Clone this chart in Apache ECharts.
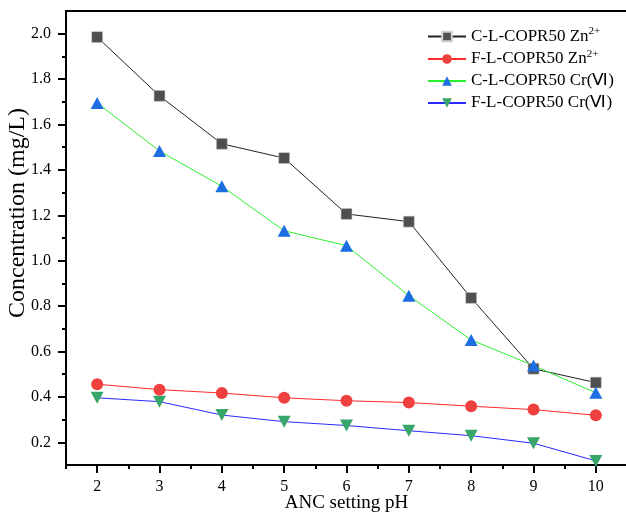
<!DOCTYPE html>
<html>
<head>
<meta charset="utf-8">
<script src="https://cdn.jsdelivr.net/npm/echarts@6/dist/echarts.min.js"></script>
<style>
  html, body { margin: 0; padding: 0; background: #fff; }
  #chart { width: 626px; height: 513px; }
</style>
</head>
<body>
<div id="chart"></div>
<script>
const ph = [2, 3, 4, 5, 6, 7, 8, 9, 10];
const cZn = [1.985, 1.726, 1.515, 1.452, 1.206, 1.172, 0.836, 0.524, 0.463];
const fZn = [0.456, 0.432, 0.417, 0.396, 0.383, 0.375, 0.359, 0.344, 0.319];
const cCr = [1.695, 1.483, 1.328, 1.132, 1.066, 0.846, 0.651, 0.538, 0.418];
const fCr = [0.396, 0.379, 0.320, 0.291, 0.274, 0.251, 0.229, 0.196, 0.118];

const xTicks = [2, 3, 4, 5, 6, 7, 8, 9, 10];
const xMinorTicks = [1.5, 2.5, 3.5, 4.5, 5.5, 6.5, 7.5, 8.5, 9.5, 10.5];
const yTicks = [0.2, 0.4, 0.6, 0.8, 1.0, 1.2, 1.4, 1.6, 1.8, 2.0];
const yMinorTicks = [0.3, 0.5, 0.7, 0.9, 1.1, 1.3, 1.5, 1.7, 1.9];

const names = ["C-L-COPR50 Zn2+", "F-L-COPR50 Zn2+", "C-L-COPR50 Cr(VI)", "F-L-COPR50 Cr(VI)"];
const labels = {
  "C-L-COPR50 Zn2+": "{t|C-L-COPR50 Zn}{sup|2+}",
  "F-L-COPR50 Zn2+": "{t|F-L-COPR50 Zn}{sup|2+}",
  "C-L-COPR50 Cr(VI)": "{t|C-L-COPR50 Cr(}{r|Ⅵ}{t|)}",
  "F-L-COPR50 Cr(VI)": "{t|F-L-COPR50 Cr(}{r|Ⅵ}{t|)}",
};

const font = "'Liberation Serif', 'Times New Roman', serif";
const pairs = (ys) => ph.map((x, i) => [x, ys[i]]);

const chart = echarts.init(document.getElementById("chart"));

const axisBase = {
  type: "value",
  splitLine: { show: false },
};

chart.setOption({
  animation: false,
  backgroundColor: "#fff",
  grid: {
    left: 66,
    top: 11,
    width: 561,
    bottom: 48,
    containLabel: false,
    outerBoundsMode: "none",
    show: true,
    borderColor: "#000",
    borderWidth: 2,
  },
  legend: {
    orient: "vertical",
    left: 422,
    top: 21,
    itemWidth: 38,
    itemHeight: 12,
    itemGap: 2,
    data: names,
    formatter: (name) => labels[name],
    textStyle: {
      color: "#000",
      fontFamily: font,
      fontSize: 17,
      lineHeight: 20,
      rich: {
        t: { fontFamily: font, fontSize: 17, color: "#000" },
        sup: { fontFamily: font, fontSize: 11, color: "#000", padding: [0, 0, 10, 0] },
        r: { fontFamily: font, fontSize: 17, color: "#000" },
      },
    },
  },
  xAxis: [
    {
      ...axisBase,
      min: 1.5,
      max: 10.5,
      position: "bottom",
      name: "ANC setting pH",
      nameLocation: "middle",
      nameGap: 29,
      nameMoveOverlap: false,
      nameTextStyle: { fontFamily: font, fontSize: 19, color: "#000" },
      axisLine: { show: true, onZero: false, lineStyle: { color: "#000", width: 2 } },
      axisTick: { show: true, length: 8, customValues: xTicks, lineStyle: { color: "#000", width: 2 } },
      axisLabel: { customValues: xTicks, margin: 14, fontFamily: font, fontSize: 16, color: "#000" },
    },
    {
      ...axisBase,
      min: 1.5,
      max: 10.5,
      position: "bottom",
      axisLine: { show: false, onZero: false },
      axisTick: { show: true, length: 4, customValues: xMinorTicks, lineStyle: { color: "#000", width: 2 } },
      axisLabel: { show: false },
    },
  ],
  yAxis: [
    {
      ...axisBase,
      min: 0.1,
      max: 2.1,
      position: "left",
      name: "Concentration (mg/L)",
      nameLocation: "middle",
      nameGap: 36,
      nameMoveOverlap: false,
      nameTextStyle: { fontFamily: font, fontSize: 24, color: "#000", padding: [0, 0, 0, 50] },
      axisLine: { show: true, onZero: false, lineStyle: { color: "#000", width: 2 } },
      axisTick: { show: true, length: 8, customValues: yTicks, lineStyle: { color: "#000", width: 2 } },
      axisLabel: {
        customValues: yTicks,
        margin: 15,
        fontFamily: font,
        fontSize: 16,
        color: "#000",
        formatter: (v) => v.toFixed(1),
      },
    },
    {
      ...axisBase,
      min: 0.1,
      max: 2.1,
      position: "left",
      axisLine: { show: false, onZero: false },
      axisTick: { show: true, length: 4, customValues: yMinorTicks, lineStyle: { color: "#000", width: 2 } },
      axisLabel: { show: false },
    },
  ],
  series: [
    {
      name: names[0],
      type: "line",
      data: pairs(cZn),
      symbol: "rect",
      symbolSize: 11,
      itemStyle: { color: "#4f4f4f", borderColor: "#d0d0d0", borderWidth: 0.6 },
      lineStyle: { color: "#222", width: 1 },
    },
    {
      name: names[1],
      type: "line",
      data: pairs(fZn),
      symbol: "circle",
      symbolSize: 12,
      itemStyle: { color: "#ef4040" },
      lineStyle: { color: "#ff2a2a", width: 1 },
    },
    {
      name: names[2],
      type: "line",
      data: pairs(cCr),
      symbol: "triangle",
      symbolSize: [13, 12],
      itemStyle: { color: "#1d6ee2" },
      lineStyle: { color: "#2cf02c", width: 1 },
    },
    {
      name: names[3],
      type: "line",
      data: pairs(fCr),
      symbol: "triangle",
      symbolRotate: 180,
      symbolSize: [13, 12],
      itemStyle: { color: "#38a66a" },
      lineStyle: { color: "#2a2aff", width: 1 },
    },
  ],
});
</script>
</body>
</html>
